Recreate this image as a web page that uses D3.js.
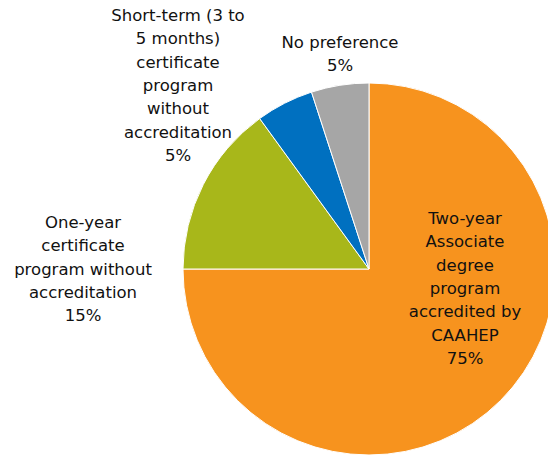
<!DOCTYPE html>
<html>
<head>
<meta charset="utf-8">
<script src="https://cdn.jsdelivr.net/npm/d3@7"></script>
<style>
  body { margin: 0; background: #fff; }
  svg { display: block; }
  text { font-family: "Century Gothic", "DejaVu Sans", sans-serif; font-size: 16.5px; fill: #111; }
</style>
</head>
<body>
<svg id="pie" width="548" height="458"></svg>
<script>
// data
var categories = [
  "Two-year Associate degree program accredited by CAAHEP",
  "One-year certificate program without accreditation",
  "Short-term (3 to 5 months) certificate program without accreditation",
  "No preference"
];
var values = [75, 15, 5, 5];
var colors = ["#F7931E", "#A8B71A", "#0070C0", "#A6A6A6"];
// label lines as they wrap in the picture
var labelLines = [
  ["Two-year", "Associate", "degree", "program", "accredited by", "CAAHEP"],
  ["One-year", "certificate", "program without", "accreditation"],
  ["Short-term (3 to", "5 months)", "certificate", "program", "without", "accreditation"],
  ["No preference"]
];

var width = 548, height = 458;
var cx = 369, cy = 269, radius = 186;
// label anchor (center x, first line y)
var labelPos = [[465, 218], [83, 222], [178, 15], [340, 42]];
var lineH = 23.3;

var svg = d3.select("#pie");
var g = svg.append("g").attr("transform", "translate(" + cx + "," + cy + ")");

var pie = d3.pie().sort(null).value(d => d);
var arc = d3.arc().innerRadius(0).outerRadius(radius);

g.selectAll("path")
  .data(pie(values))
  .enter()
  .append("path")
  .attr("d", arc)
  .attr("fill", (d, i) => colors[i])
  .attr("stroke", "#fff")
  .attr("stroke-width", 1);

// labels
var labels = svg.selectAll("text.lbl")
  .data(categories)
  .enter()
  .append("text")
  .attr("class", "lbl")
  .attr("text-anchor", "middle")
  .attr("dominant-baseline", "central");

labels.each(function(d, i) {
  var t = d3.select(this);
  var lines = labelLines[i].concat([values[i] + "%"]);
  lines.forEach(function(l, j) {
    t.append("tspan")
      .attr("x", labelPos[i][0])
      .attr("y", labelPos[i][1] + j * lineH)
      .text(l);
  });
});
</script>
</body>
</html>
